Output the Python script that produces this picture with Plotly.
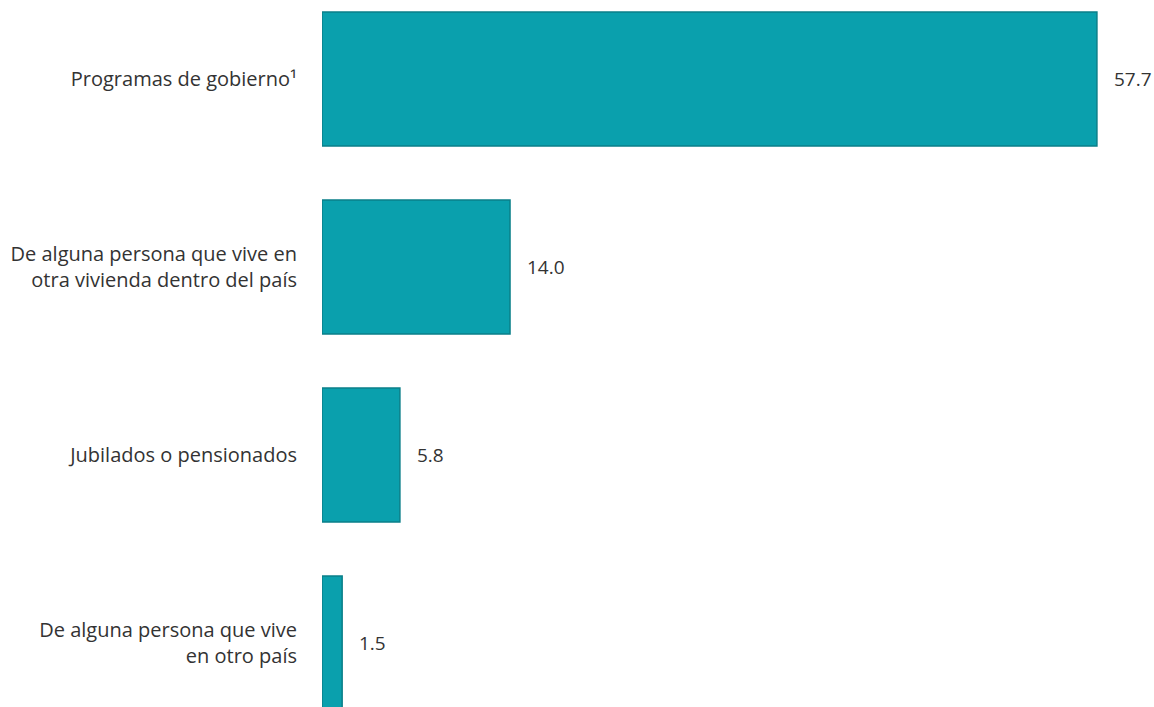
import plotly.graph_objects as go

categories = [
    "Programas de gobierno¹",
    "De alguna persona que vive en<br>otra vivienda dentro del país",
    "Jubilados o pensionados",
    "De alguna persona que vive<br>en otro país",
]
values = [57.7, 14.0, 5.8, 1.5]
value_labels = ["57.7", "14.0", "5.8", "1.5"]

FONT = "Open Sans"
TXT = "#333333"

fig = go.Figure(
    go.Bar(
        x=values,
        y=categories,
        orientation="h",
        marker=dict(color="#0aa0ad", line=dict(color="#0a7f89", width=1.5)),
        hoverinfo="x+y",
    )
)

for v, c, t in zip(values, categories, value_labels):
    fig.add_annotation(
        x=v, y=c, text=t, showarrow=False, xanchor="left", yanchor="middle",
        xshift=15, font=dict(size=19, color=TXT, family=FONT),
    )

fig.update_layout(
    width=1154,
    height=707,
    margin=dict(l=322, r=0, t=0, b=0),
    paper_bgcolor="white",
    plot_bgcolor="white",
    bargap=0.287,
    showlegend=False,
    font=dict(family=FONT, size=20, color=TXT),
)
fig.update_xaxes(range=[0, 61.95], visible=False, showgrid=False, zeroline=False)
fig.update_yaxes(
    range=[3.340, -0.420],
    showgrid=False,
    zeroline=False,
    showline=False,
    ticks="outside",
    ticklen=20,
    tickcolor="rgba(0,0,0,0)",
    tickfont=dict(size=20, color=TXT, family=FONT),
)

fig.write_html(
    "out.html",
    config={"displayModeBar": False},
    post_script="document.body.style.margin='0';document.body.style.overflow='hidden';",
)
